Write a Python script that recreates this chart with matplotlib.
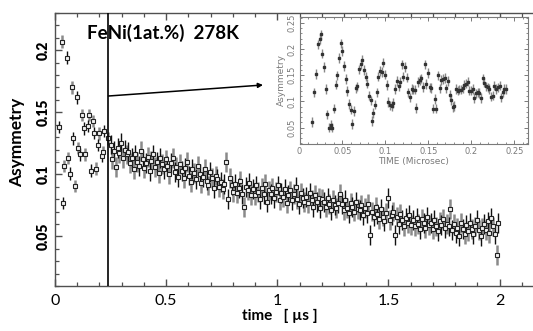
import numpy as np
import matplotlib
matplotlib.use("Agg")
import matplotlib.pyplot as plt
from matplotlib.ticker import MultipleLocator, FuncFormatter

# ---------------- data ----------------
early_t = [0.019, 0.030, 0.037, 0.042, 0.053, 0.060, 0.0675, 0.075, 0.082, 0.090,
           0.098, 0.105, 0.1125, 0.123, 0.131, 0.135, 0.147, 0.153, 0.162, 0.170,
           0.177, 0.1845, 0.192, 0.199, 0.210, 0.217, 0.222, 0.240]
early_a = [0.138, 0.207, 0.077, 0.1065, 0.194, 0.113, 0.1006, 0.170, 0.129, 0.0905,
           0.162, 0.121, 0.116, 0.148, 0.137, 0.116, 0.139, 0.148, 0.103, 0.143,
           0.1335, 0.1046, 0.1235, 0.133, 0.1146, 0.118, 0.135, 0.129]
early_err = 0.005

late_start = 0.25
late_step = 0.008
late_a = [
    0.124, 0.112, 0.119, 0.106, 0.121, 0.117, 0.125, 0.113, 0.120, 0.116,
    0.118, 0.109, 0.113, 0.104, 0.116, 0.110, 0.107, 0.119, 0.112, 0.105,
    0.109, 0.114, 0.103, 0.111, 0.116, 0.106, 0.110, 0.101, 0.113, 0.108,
    0.104, 0.112, 0.107, 0.100, 0.109, 0.113, 0.102, 0.106, 0.098, 0.108,
    0.103, 0.097, 0.105, 0.110, 0.099, 0.094, 0.104, 0.101, 0.096, 0.107,
    0.100, 0.093, 0.098, 0.104, 0.095, 0.091, 0.102, 0.097, 0.089, 0.099,
    0.096, 0.090, 0.094, 0.088, 0.092, 0.110, 0.080, 0.097, 0.091, 0.086,
    0.092, 0.085, 0.089, 0.095, 0.084, 0.074, 0.090, 0.087, 0.093, 0.083,
    0.088, 0.083, 0.091, 0.086, 0.080, 0.089, 0.084, 0.092, 0.078, 0.087,
    0.084, 0.089, 0.081, 0.086, 0.091, 0.079, 0.085, 0.082, 0.088, 0.077,
    0.083, 0.087, 0.079, 0.084, 0.090, 0.080, 0.076, 0.085, 0.081, 0.078,
    0.082, 0.077, 0.085, 0.079, 0.074, 0.083, 0.078, 0.081, 0.073, 0.080,
    0.078, 0.074, 0.081, 0.076, 0.071, 0.079, 0.075, 0.073, 0.077, 0.084,
    0.076, 0.071, 0.079, 0.073, 0.069, 0.077, 0.074, 0.070, 0.078, 0.072,
    0.071, 0.075, 0.067, 0.073, 0.069, 0.076, 0.051, 0.070, 0.066, 0.074,
    0.068, 0.064, 0.072, 0.066, 0.062, 0.069, 0.081, 0.063, 0.067, 0.070,
    0.051, 0.066, 0.060, 0.068, 0.063, 0.058, 0.065, 0.061, 0.067, 0.059,
    0.063, 0.058, 0.065, 0.060, 0.056, 0.064, 0.061, 0.057, 0.066, 0.059,
    0.061, 0.056, 0.063, 0.058, 0.054, 0.062, 0.059, 0.064, 0.057, 0.060,
    0.058, 0.072, 0.055, 0.060, 0.053, 0.057, 0.050, 0.061, 0.056, 0.052,
    0.059, 0.054, 0.061, 0.056, 0.052, 0.058, 0.063, 0.055, 0.050, 0.057,
    0.060, 0.055, 0.062, 0.053, 0.065, 0.058, 0.052, 0.035, 0.061,
]
late_err = 0.008

inset_t = [0.0148, 0.0167, 0.0187, 0.0214, 0.0234, 0.0253, 0.0265, 0.0288, 0.0304, 0.0323,
           0.0347, 0.0366, 0.0382, 0.0401, 0.0421, 0.0440, 0.0459, 0.0479, 0.0498, 0.0518,
           0.0537, 0.0557, 0.0576, 0.0596, 0.0611, 0.0631, 0.0654, 0.0674, 0.0693, 0.0713,
           0.0732, 0.0752, 0.0771, 0.0790, 0.0810, 0.0829, 0.0841, 0.0860, 0.0880, 0.0900,
           0.0919, 0.0938, 0.0958, 0.0977, 0.0997, 0.1016, 0.1036, 0.1055, 0.1075, 0.1094,
           0.1114, 0.1133, 0.1153, 0.1172, 0.1192, 0.1211, 0.1227, 0.1246, 0.1266, 0.1285,
           0.1305, 0.1324, 0.1343, 0.1359, 0.1379, 0.1398, 0.1417, 0.1437, 0.1456, 0.1476,
           0.1495, 0.1515, 0.1534, 0.1554, 0.1573, 0.1593, 0.1612, 0.1632, 0.1651, 0.1671,
           0.1690, 0.1709, 0.1729, 0.1748, 0.1768, 0.1787, 0.1803, 0.1822, 0.1842, 0.1861,
           0.1881, 0.1900, 0.1920, 0.1939, 0.1959, 0.1978, 0.1998, 0.2017, 0.2037, 0.2056,
           0.2076, 0.2095, 0.2114, 0.2134, 0.2153, 0.2173, 0.2192, 0.2212, 0.2231, 0.2251,
           0.2270, 0.2290, 0.2309, 0.2329, 0.2348, 0.2368, 0.2387, 0.2407]
inset_a = [0.0613, 0.1175, 0.152, 0.209, 0.219, 0.228, 0.191, 0.166, 0.124, 0.0756,
           0.050, 0.055, 0.050, 0.0863, 0.132, 0.150, 0.183, 0.211, 0.196, 0.1675,
           0.1425, 0.120, 0.0956, 0.0844, 0.0569, 0.082, 0.125, 0.129, 0.161, 0.1706,
           0.180, 0.160, 0.1475, 0.134, 0.111, 0.102, 0.0625, 0.078, 0.094, 0.1175,
           0.1475, 0.158, 0.156, 0.174, 0.151, 0.131, 0.099, 0.0925, 0.091, 0.0975,
           0.124, 0.139, 0.129, 0.138, 0.1706, 0.1475, 0.1656, 0.1456, 0.1175, 0.108,
           0.124, 0.1225, 0.1225, 0.088, 0.1375, 0.141, 0.144, 0.128, 0.1706, 0.133,
           0.154, 0.127, 0.126, 0.0863, 0.105, 0.0863, 0.150, 0.125, 0.1406, 0.1425,
           0.1444, 0.125, 0.139, 0.113, 0.103, 0.0894, 0.091, 0.124, 0.1206, 0.1225,
           0.1225, 0.125, 0.132, 0.134, 0.138, 0.1206, 0.1206, 0.124, 0.107, 0.1156,
           0.1175, 0.116, 0.107, 0.144, 0.136, 0.129, 0.127, 0.124, 0.1094, 0.111,
           0.130, 0.124, 0.127, 0.130, 0.108, 0.1175, 0.124, 0.124]
inset_err = 0.009

x_ticks = [0, 0.5, 1, 1.5, 2]
y_ticks = [0.05, 0.1, 0.15, 0.2]
inset_x_ticks = [0, 0.05, 0.1, 0.15, 0.2, 0.25]
inset_y_ticks = [0.05, 0.1, 0.15, 0.2, 0.25]
cut_time = 0.24

late_t = late_start + late_step * np.arange(len(late_a))

# ---------------- figure ----------------
W, H = 533, 331
fig = plt.figure(figsize=(W / 100, H / 100), dpi=100)
FONT = "Lato"

ax = fig.add_axes([55 / W, (H - 286) / H, 1 - 55 / W, 273 / H])
ax.set_xlim(0, 2.15)
ax.set_ylim(0.01, 0.23)

all_t = np.concatenate([np.array(early_t), late_t])
all_a = np.concatenate([np.array(early_a), np.array(late_a)])
all_e = np.concatenate([np.full(len(early_t), early_err), np.full(len(late_a), late_err)])

ax.errorbar(all_t[1::2], all_a[1::2], yerr=all_e[1::2], fmt="none",
            ecolor="#8a8a8a", elinewidth=1.8, capsize=0, zorder=2)
ax.errorbar(all_t[::2], all_a[::2], yerr=all_e[::2], fmt="none",
            ecolor="#111111", elinewidth=1.0, capsize=0, zorder=3)
ax.plot(all_t, all_a, "s", ms=3.4, mfc="#f2f2f2", mec="#222222", mew=0.8, zorder=4)

ax.axvline(cut_time, color="black", lw=1.2, zorder=5)

for s in ["top", "bottom", "left"]:
    ax.spines[s].set_color("#505050")
    ax.spines[s].set_linewidth(1.0)
ax.spines["right"].set_visible(False)

fmt = lambda v: "%g" % v
ax.xaxis.set_major_locator(matplotlib.ticker.FixedLocator(x_ticks))
ax.yaxis.set_major_locator(matplotlib.ticker.FixedLocator(y_ticks))
ax.xaxis.set_major_formatter(FuncFormatter(lambda v, p: fmt(v)))
ax.yaxis.set_major_formatter(FuncFormatter(lambda v, p: fmt(v)))
ax.xaxis.set_minor_locator(MultipleLocator(0.1))
ax.yaxis.set_minor_locator(MultipleLocator(0.01))
ax.tick_params(which="both", direction="in", top=True, right=False, color="#505050")
ax.tick_params(which="major", length=5, width=1.0)
ax.tick_params(which="minor", length=3, width=0.9)
ax.tick_params(axis="x", which="major", pad=6)
ax.tick_params(axis="y", which="major", pad=4)

fig.text(17 / W, 1 - 142 / H, "Asymmetry", rotation=90, ha="center", va="center",
         fontsize=12.5, fontweight="bold", family=FONT)
fig.text(280 / W, 1 - 316 / H, "time   [ µs ]", ha="center", va="center",
         fontsize=11, fontweight="bold", family=FONT)
fig.text(163 / W, 1 - 33 / H, "FeNi(1at.%)  278K", ha="center", va="center",
         fontsize=13.5, fontweight="bold", family=FONT)

ax.annotate("", xy=(263 / W, 1 - 85 / H), xycoords="figure fraction",
            xytext=(108.5 / W, 1 - 96 / H), textcoords="figure fraction",
            arrowprops=dict(arrowstyle="-|>", color="black", lw=1.1,
                            mutation_scale=7, shrinkA=0, shrinkB=0), zorder=6)

# ---------------- inset ----------------
GREY = "#7a7a7a"
ins = fig.add_axes([299.5 / W, (H - 144) / H, 228 / W, 127 / H])
ins.set_xlim(0, 0.2655)
ins.set_ylim(0.019, 0.261)
ins.errorbar(inset_t, inset_a, yerr=inset_err, fmt="s", ms=1.8, mfc="#333333",
             mec="#333333", ecolor="#888888", elinewidth=1.0, capsize=0)
for s in ins.spines.values():
    s.set_color(GREY)
    s.set_linewidth(0.8)
ins.xaxis.set_major_locator(matplotlib.ticker.FixedLocator(inset_x_ticks))
ins.yaxis.set_major_locator(matplotlib.ticker.FixedLocator(inset_y_ticks))
ins.xaxis.set_major_formatter(FuncFormatter(lambda v, p: fmt(v)))
ins.yaxis.set_major_formatter(FuncFormatter(lambda v, p: fmt(v)))
ins.xaxis.set_minor_locator(MultipleLocator(0.01))
ins.yaxis.set_minor_locator(MultipleLocator(0.01))
ins.tick_params(which="both", direction="in", top=True, right=True, color=GREY,
                labelcolor=GREY, labelsize=6)
ins.tick_params(which="major", length=3, width=0.7, pad=2)
ins.tick_params(which="minor", length=1.5, width=0.6)
ins.set_xlabel("TIME (Microsec)", fontsize=6.5, color=GREY, labelpad=1)
ins.set_ylabel("Asymmetry", fontsize=6.5, color=GREY, labelpad=1)

# style tick labels after the ticks exist
fig.canvas.draw()
for lab in ax.get_xticklabels():
    lab.set_fontfamily(FONT)
    lab.set_fontsize(11.5)
for lab in ax.get_yticklabels():
    lab.set_fontfamily(FONT)
    lab.set_fontsize(10)
    lab.set_fontweight("heavy")
    lab.set_rotation(90)
    lab.set_verticalalignment("center")
for lab in ins.get_yticklabels():
    lab.set_rotation(90)
    lab.set_verticalalignment("center")

fig.savefig("out.png", dpi=100)
